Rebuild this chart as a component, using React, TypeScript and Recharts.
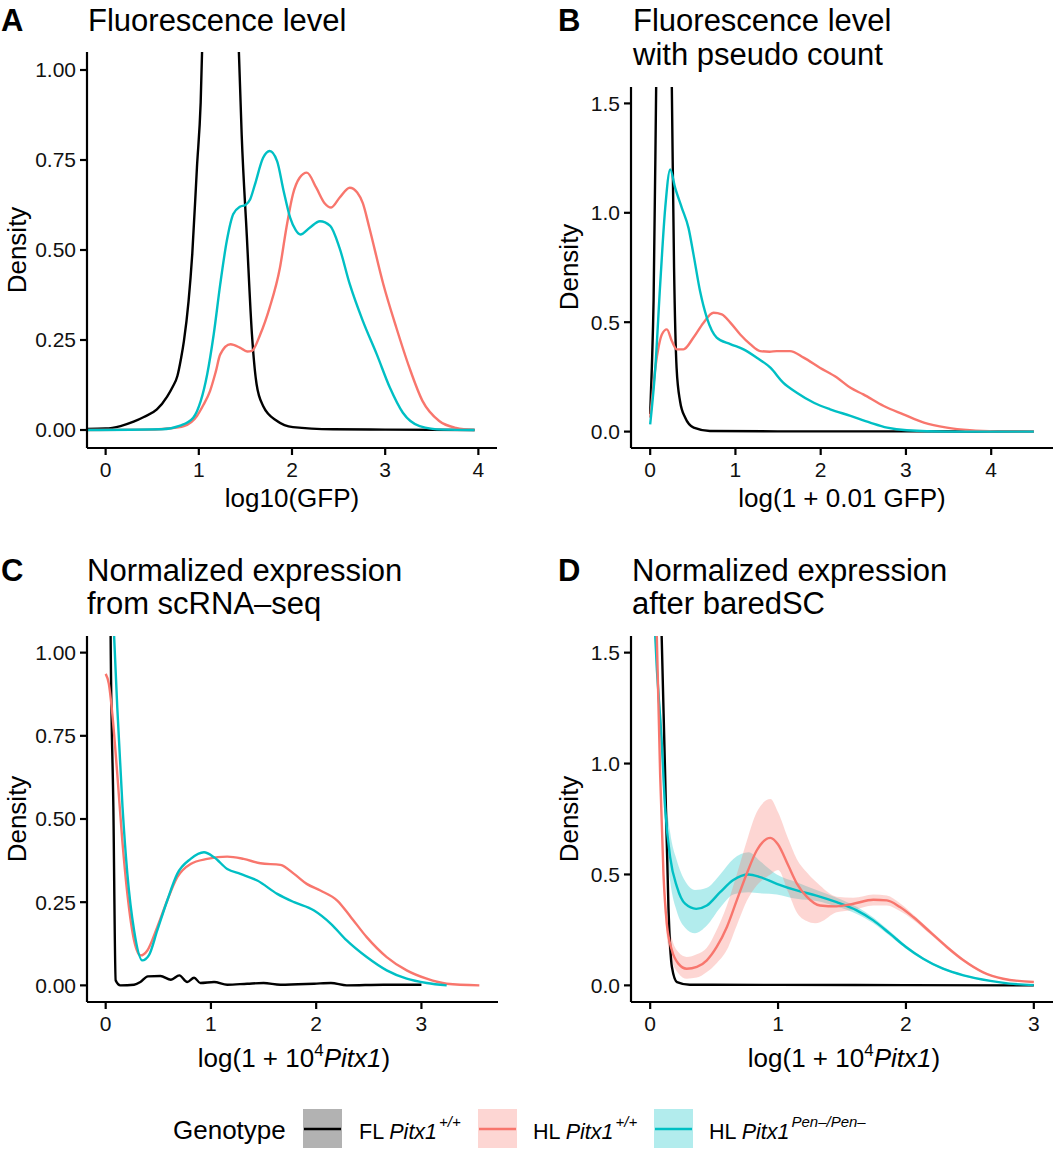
import React from "react";
import { Area, ComposedChart, Line, XAxis, YAxis } from "recharts";

const FONT = '"Liberation Sans", Arial, Helvetica, sans-serif';
const FL_COLOR = "#000000";
const HL_COLOR = "#F8766D";
const PEN_COLOR = "#00BFC4";

type Pt = [number, number];
type BandPt = [number, number, number];

// A: log10(GFP)
const A_FL: Pt[] = [
  [-0.2, 0.003], [0, 0.004], [0.16, 0.011], [0.3, 0.023], [0.41, 0.036], [0.55, 0.057],
  [0.66, 0.093], [0.72, 0.12], [0.77, 0.15], [0.81, 0.2], [0.84, 0.247], [0.89, 0.358],
  [0.93, 0.49], [0.98, 0.73], [1.02, 0.91], [1.06, 1.3], [1.12, 1.9], [1.2, 2.35],
  [1.25, 2.4], [1.31, 2.2], [1.37, 1.7], [1.43, 1.05], [1.46, 0.82], [1.515, 0.54],
  [1.57, 0.266], [1.62, 0.127], [1.69, 0.067], [1.84, 0.025], [2.01, 0.008], [2.44, 0.002],
  [3.0, 0.001], [3.96, 0],
];
const A_HL: Pt[] = [
  [-0.2, 0], [0.5, 0.001], [0.66, 0.004], [0.84, 0.011], [0.98, 0.039], [1.05, 0.07],
  [1.12, 0.108], [1.18, 0.16], [1.23, 0.21], [1.34, 0.238], [1.44, 0.229], [1.52, 0.218],
  [1.57, 0.22], [1.66, 0.266], [1.76, 0.34], [1.87, 0.45], [1.94, 0.562], [2.01, 0.655],
  [2.08, 0.7], [2.16, 0.715], [2.26, 0.673], [2.35, 0.63], [2.42, 0.618], [2.51, 0.645],
  [2.62, 0.673], [2.7, 0.66], [2.76, 0.63], [2.83, 0.562], [2.98, 0.405], [3.12, 0.284],
  [3.26, 0.173], [3.4, 0.081], [3.58, 0.025], [3.76, 0.006], [3.96, 0],
];
const A_PEN: Pt[] = [
  [-0.2, 0], [0.6, 0.002], [0.8, 0.012], [0.94, 0.034], [1.02, 0.08], [1.09, 0.155],
  [1.16, 0.266], [1.23, 0.405], [1.3, 0.525], [1.37, 0.6], [1.44, 0.62], [1.5, 0.625],
  [1.55, 0.64], [1.6, 0.68], [1.69, 0.756], [1.76, 0.775], [1.84, 0.747], [1.91, 0.664],
  [1.98, 0.59], [2.04, 0.555], [2.09, 0.543], [2.19, 0.562], [2.3, 0.58], [2.41, 0.567],
  [2.51, 0.506], [2.62, 0.405], [2.76, 0.303], [2.91, 0.21], [3.05, 0.118], [3.19, 0.048],
  [3.37, 0.011], [3.62, 0.001], [3.96, 0],
];

// B: log(1 + 0.01 GFP)
const B_FL: Pt[] = [
  [0, 0.08], [0.02, 0.3], [0.04, 0.6], [0.07, 1.57], [0.1, 2.6], [0.16, 4.0], [0.21, 2.8],
  [0.254, 1.57], [0.28, 0.75], [0.31, 0.29], [0.35, 0.14], [0.41, 0.064], [0.51, 0.018],
  [0.7, 0.003], [1.5, 0.001], [3.0, 0.001], [4.5, 0],
];
const B_HL: Pt[] = [
  [0, 0.064], [0.03, 0.18], [0.06, 0.29], [0.1, 0.39], [0.137, 0.444], [0.196, 0.467],
  [0.254, 0.414], [0.313, 0.376], [0.39, 0.376], [0.508, 0.43], [0.626, 0.498], [0.743, 0.543],
  [0.84, 0.536], [0.94, 0.498], [1.056, 0.444], [1.173, 0.4], [1.29, 0.368], [1.4, 0.365],
  [1.486, 0.368], [1.64, 0.368], [1.8, 0.338], [1.99, 0.292], [2.19, 0.247], [2.35, 0.2],
  [2.5, 0.17], [2.74, 0.117], [2.97, 0.079], [3.21, 0.041], [3.48, 0.018], [3.75, 0.006],
  [4.07, 0.001], [4.5, 0],
];
const B_PEN: Pt[] = [
  [0, 0.033], [0.06, 0.29], [0.117, 0.67], [0.176, 1.02], [0.235, 1.198], [0.293, 1.114],
  [0.371, 1.023], [0.45, 0.93], [0.508, 0.81], [0.586, 0.64], [0.665, 0.52], [0.78, 0.43],
  [0.94, 0.4], [1.095, 0.376], [1.25, 0.338], [1.41, 0.292], [1.56, 0.224], [1.72, 0.178],
  [1.92, 0.132], [2.11, 0.102], [2.35, 0.072], [2.58, 0.041], [2.78, 0.018], [3.01, 0.006],
  [3.48, 0], [4.5, 0],
];

// C: scRNA-seq
const C_FL: Pt[] = [
  [0, 3.0], [0.03, 2.0], [0.047, 1.05], [0.073, 0.535], [0.095, 0.015], [0.14, 0],
  [0.27, 0.002], [0.33, 0.01], [0.4, 0.027], [0.52, 0.028], [0.62, 0.017], [0.7, 0.03],
  [0.775, 0.01], [0.84, 0.023], [0.9, 0.007], [1.03, 0.01], [1.155, 0.002], [1.345, 0.005],
  [1.5, 0.007], [1.66, 0.002], [1.98, 0.005], [2.14, 0.007], [2.29, 0], [2.64, 0.002], [3.0, 0.002],
];
const C_HL: Pt[] = [
  [0, 0.936], [0.03, 0.906], [0.063, 0.816], [0.11, 0.636], [0.158, 0.435], [0.206, 0.275],
  [0.27, 0.135], [0.332, 0.09], [0.396, 0.105], [0.49, 0.175], [0.585, 0.255], [0.68, 0.325],
  [0.807, 0.365], [0.965, 0.38], [1.155, 0.387], [1.31, 0.38], [1.47, 0.367], [1.66, 0.362],
  [1.79, 0.335], [1.91, 0.305], [2.04, 0.285], [2.2, 0.255], [2.33, 0.205], [2.48, 0.145],
  [2.67, 0.085], [2.86, 0.045], [3.05, 0.02], [3.24, 0.005], [3.55, 0],
];
const C_PEN: Pt[] = [
  [0, 1.6], [0.05, 1.3], [0.08, 1.05], [0.11, 0.836], [0.16, 0.536], [0.206, 0.335],
  [0.27, 0.165], [0.348, 0.075], [0.41, 0.09], [0.49, 0.165], [0.585, 0.255], [0.68, 0.335],
  [0.807, 0.38], [0.934, 0.4], [1.03, 0.385], [1.155, 0.35], [1.28, 0.335], [1.44, 0.315],
  [1.63, 0.275], [1.79, 0.25], [1.98, 0.225], [2.14, 0.185], [2.29, 0.135], [2.48, 0.085],
  [2.67, 0.045], [2.86, 0.02], [3.05, 0.007], [3.24, 0],
];

// D: after baredSC (line + [x, low, high] band)
const D_FL: Pt[] = [
  [0, 4.0], [0.05, 2.5], [0.09, 1.57], [0.117, 0.95], [0.143, 0.35], [0.17, 0.083],
  [0.21, 0.015], [0.31, 0.003], [1.0, 0.002], [2.0, 0.001], [3.0, 0],
];
const D_HL: Pt[] = [
  [0, 2.8], [0.03, 2.0], [0.052, 1.57], [0.078, 0.95], [0.104, 0.5], [0.13, 0.278],
  [0.17, 0.158], [0.22, 0.098], [0.286, 0.075], [0.365, 0.083], [0.443, 0.113], [0.52, 0.173],
  [0.6, 0.263], [0.677, 0.383], [0.755, 0.503], [0.833, 0.608], [0.94, 0.665], [1.0, 0.635],
  [1.08, 0.54], [1.146, 0.46], [1.224, 0.4], [1.328, 0.36], [1.458, 0.356], [1.59, 0.368],
  [1.745, 0.386], [1.85, 0.383], [1.953, 0.353], [2.057, 0.308], [2.19, 0.24], [2.32, 0.173],
  [2.45, 0.113], [2.6, 0.06], [2.76, 0.03], [3.0, 0.015],
];
const D_HL_BAND: BandPt[] = [
  [0, 2.7, 2.9], [0.03, 1.9, 2.1], [0.052, 1.5, 1.64], [0.078, 0.9, 1.0], [0.104, 0.45, 0.55],
  [0.13, 0.22, 0.33], [0.17, 0.11, 0.21], [0.22, 0.055, 0.15], [0.286, 0.03, 0.128],
  [0.365, 0.035, 0.14], [0.443, 0.06, 0.17], [0.52, 0.1, 0.25], [0.6, 0.16, 0.36],
  [0.677, 0.27, 0.5], [0.755, 0.38, 0.65], [0.833, 0.45, 0.78], [0.94, 0.5, 0.84],
  [1.0, 0.52, 0.78], [1.08, 0.42, 0.66], [1.146, 0.33, 0.57], [1.224, 0.29, 0.51],
  [1.29, 0.28, 0.47], [1.328, 0.285, 0.45], [1.458, 0.33, 0.4], [1.59, 0.34, 0.395],
  [1.745, 0.36, 0.41], [1.85, 0.36, 0.405], [1.953, 0.335, 0.37], [2.057, 0.295, 0.32],
  [2.19, 0.23, 0.25], [2.32, 0.165, 0.181], [2.45, 0.107, 0.119], [2.6, 0.056, 0.064],
  [2.76, 0.027, 0.033], [3.0, 0.012, 0.018],
];
const D_PEN: Pt[] = [
  [0, 2.5], [0.02, 1.9], [0.04, 1.57], [0.09, 1.1], [0.117, 0.8], [0.156, 0.578],
  [0.21, 0.443], [0.273, 0.368], [0.36, 0.345], [0.443, 0.36], [0.547, 0.42], [0.65, 0.475],
  [0.77, 0.5], [0.86, 0.488], [0.99, 0.458], [1.146, 0.428], [1.3, 0.405], [1.458, 0.375],
  [1.615, 0.338], [1.745, 0.293], [1.875, 0.233], [2.0, 0.173], [2.135, 0.12], [2.29, 0.075],
  [2.45, 0.045], [2.66, 0.02], [2.81, 0.008], [3.0, 0.001],
];
const D_PEN_BAND: BandPt[] = [
  [0, 2.4, 2.6], [0.02, 1.8, 2.0], [0.04, 1.5, 1.64], [0.09, 1.02, 1.18], [0.117, 0.7, 0.9],
  [0.156, 0.47, 0.69], [0.21, 0.33, 0.56], [0.273, 0.26, 0.47], [0.35, 0.235, 0.43],
  [0.443, 0.27, 0.44], [0.547, 0.35, 0.5], [0.65, 0.41, 0.57], [0.77, 0.42, 0.6],
  [0.86, 0.415, 0.56], [0.99, 0.41, 0.5], [1.146, 0.39, 0.465], [1.3, 0.38, 0.43],
  [1.458, 0.355, 0.395], [1.615, 0.322, 0.354], [1.745, 0.28, 0.306], [1.875, 0.222, 0.244],
  [2.0, 0.165, 0.181], [2.135, 0.114, 0.126], [2.29, 0.07, 0.08], [2.45, 0.041, 0.049],
  [2.66, 0.017, 0.023], [2.81, 0.006, 0.01], [3.0, 0, 0.002],
];

const X_TICKS_4 = [0, 1, 2, 3, 4];
const X_TICKS_3 = [0, 1, 2, 3];
const Y_TICKS_1 = [0, 0.25, 0.5, 0.75, 1];
const Y_TICKS_15 = [0, 0.5, 1, 1.5];

const toPts = (arr: Pt[]) => arr.map(([x, y]) => ({ x, y }));
const toBand = (arr: BandPt[]) => arr.map(([x, lo, hi]) => ({ x, band: [lo, hi] }));

type Series = { data: Pt[]; color: string };
type Band = { data: BandPt[]; color: string };
type PanelCfg = {
  left: number; top: number; width: number; height: number;
  plotTop: number; right: number; yAxisWidth: number; xAxisHeight: number;
  xDomain: [number, number]; xTicks: number[];
  yDomain: [number, number]; yTicks: number[]; yDigits: number;
  lines: Series[]; bands?: Band[];
};

const panels: PanelCfg[] = [
  {
    left: 0, top: 0, width: 530, height: 540, plotTop: 52, right: 33, yAxisWidth: 87, xAxisHeight: 92,
    xDomain: [-0.2, 4.2], xTicks: X_TICKS_4, yDomain: [-0.05, 1.05], yTicks: Y_TICKS_1, yDigits: 2,
    lines: [{ data: A_FL, color: FL_COLOR }, { data: A_HL, color: HL_COLOR }, { data: A_PEN, color: PEN_COLOR }],
  },
  {
    left: 530, top: 0, width: 533, height: 540, plotTop: 87, right: 10, yAxisWidth: 101, xAxisHeight: 92,
    xDomain: [-0.225, 4.725], xTicks: X_TICKS_4, yDomain: [-0.075, 1.575], yTicks: Y_TICKS_15, yDigits: 1,
    lines: [{ data: B_FL, color: FL_COLOR }, { data: B_HL, color: HL_COLOR }, { data: B_PEN, color: PEN_COLOR }],
  },
  {
    left: 0, top: 540, width: 530, height: 520, plotTop: 96, right: 32, yAxisWidth: 87, xAxisHeight: 58,
    xDomain: [-0.1775, 3.7275], xTicks: X_TICKS_3, yDomain: [-0.05, 1.05], yTicks: Y_TICKS_1, yDigits: 2,
    lines: [{ data: C_FL, color: FL_COLOR }, { data: C_HL, color: HL_COLOR }, { data: C_PEN, color: PEN_COLOR }],
  },
  {
    left: 530, top: 540, width: 533, height: 520, plotTop: 96, right: 10, yAxisWidth: 101, xAxisHeight: 58,
    xDomain: [-0.15, 3.15], xTicks: X_TICKS_3, yDomain: [-0.075, 1.575], yTicks: Y_TICKS_15, yDigits: 1,
    bands: [{ data: D_PEN_BAND, color: PEN_COLOR }, { data: D_HL_BAND, color: HL_COLOR }],
    lines: [{ data: D_FL, color: FL_COLOR }, { data: D_PEN, color: PEN_COLOR }, { data: D_HL, color: HL_COLOR }],
  },
];

const axisStroke = { stroke: "#000", strokeWidth: 2.2 };
const tickStyle = { fontSize: 21, fill: "#111", fontFamily: FONT };

function Panel({ cfg }: { cfg: PanelCfg }) {
  return (
    <div style={{ position: "absolute", left: cfg.left, top: cfg.top }}>
      <ComposedChart
        width={cfg.width}
        height={cfg.height}
        margin={{ top: cfg.plotTop, right: cfg.right, bottom: 0, left: 0 }}
        style={{ fontFamily: FONT }}
      >
        <XAxis
          type="number" dataKey="x" domain={cfg.xDomain} ticks={cfg.xTicks} allowDataOverflow
          interval={0} height={cfg.xAxisHeight} tickSize={7} tickMargin={7}
          stroke="#000" strokeWidth={2.2}
          axisLine={axisStroke} tickLine={axisStroke} tick={tickStyle}
        />
        <YAxis
          type="number" domain={cfg.yDomain} ticks={cfg.yTicks} allowDataOverflow
          interval={0} width={cfg.yAxisWidth} tickSize={7} tickMargin={4}
          stroke="#000" strokeWidth={2.2}
          tickFormatter={(v: number) => v.toFixed(cfg.yDigits)}
          axisLine={axisStroke} tickLine={axisStroke} tick={tickStyle}
        />
        {(cfg.bands || []).map((b, i) => (
          <Area
            key={"band" + i} data={toBand(b.data)} dataKey="band" type="monotone"
            stroke="none" fill={b.color} fillOpacity={0.3}
            dot={false} activeDot={false} isAnimationActive={false}
          />
        ))}
        {cfg.lines.map((s, i) => (
          <Line
            key={"line" + i} data={toPts(s.data)} dataKey="y" type="monotone"
            stroke={s.color} strokeWidth={2.4} dot={false} activeDot={false} isAnimationActive={false}
          />
        ))}
      </ComposedChart>
    </div>
  );
}

function PitxLabel({ x, y, prefix, sup }: { x: number; y: number; prefix: string; sup: string }) {
  return (
    <text x={x} y={y} fontSize={21.5}>
      {prefix}
      <tspan fontStyle="italic">Pitx1</tspan>
      <tspan fontStyle="italic" fontSize={15} dx={2} dy={-12}>{sup}</tspan>
    </text>
  );
}

function PitxAxisTitle({ cx, y }: { cx: number; y: number }) {
  return (
    <text x={cx} y={y} fontSize={26} textAnchor="middle">
      log(1 + 10
      <tspan fontSize={17} dy={-11}>4</tspan>
      <tspan fontStyle="italic" dy={11}>Pitx1</tspan>
      <tspan>)</tspan>
    </text>
  );
}

const LEGEND = [
  { box: 303, text: 359, color: FL_COLOR, prefix: "FL ", sup: "+/+" },
  { box: 478, text: 533, color: HL_COLOR, prefix: "HL ", sup: "+/+" },
  { box: 654, text: 709, color: PEN_COLOR, prefix: "HL ", sup: "Pen–/Pen–" },
];

function Overlay() {
  return (
    <svg
      width={1063} height={1160}
      style={{ position: "absolute", left: 0, top: 0, pointerEvents: "none", fontFamily: FONT }}
    >
      <g fill="#000">
        <text x={1} y={31} fontSize={31} fontWeight="bold">A</text>
        <text x={88} y={31} fontSize={31}>Fluorescence level</text>
        <text x={558} y={31} fontSize={31} fontWeight="bold">B</text>
        <text x={633} y={31} fontSize={31}>Fluorescence level</text>
        <text x={633} y={65} fontSize={31}>with pseudo count</text>
        <text x={1} y={581} fontSize={31} fontWeight="bold">C</text>
        <text x={87} y={581} fontSize={31}>Normalized expression</text>
        <text x={87} y={614} fontSize={31}>from scRNA–seq</text>
        <text x={558} y={581} fontSize={31} fontWeight="bold">D</text>
        <text x={632} y={581} fontSize={31}>Normalized expression</text>
        <text x={632} y={614} fontSize={31}>after baredSC</text>

        <text transform="translate(26,250) rotate(-90)" fontSize={26} textAnchor="middle">Density</text>
        <text transform="translate(578,267) rotate(-90)" fontSize={26} textAnchor="middle">Density</text>
        <text transform="translate(26,819) rotate(-90)" fontSize={26} textAnchor="middle">Density</text>
        <text transform="translate(578,819) rotate(-90)" fontSize={26} textAnchor="middle">Density</text>

        <text x={292} y={507} fontSize={26} textAnchor="middle">log10(GFP)</text>
        <text x={842} y={507} fontSize={26} textAnchor="middle">log(1 + 0.01 GFP)</text>
        <PitxAxisTitle cx={294} y={1067} />
        <PitxAxisTitle cx={844} y={1067} />

        <text x={173} y={1139} fontSize={26}>Genotype</text>
        {LEGEND.map((l, i) => (
          <g key={i}>
            <rect x={l.box} y={1109} width={39} height={39} fill={l.color} fillOpacity={0.3} />
            <line x1={l.box + 1} x2={l.box + 38} y1={1129} y2={1129} stroke={l.color} strokeWidth={2.4} />
            <PitxLabel x={l.text} y={1139} prefix={l.prefix} sup={l.sup} />
          </g>
        ))}
      </g>
    </svg>
  );
}

export default function App() {
  return (
    <div
      style={{
        position: "absolute", left: 0, top: 0, width: 1063, height: 1160,
        background: "#fff", overflow: "hidden", fontFamily: FONT,
      }}
    >
      {panels.map((p, i) => (
        <Panel key={i} cfg={p} />
      ))}
      <Overlay />
    </div>
  );
}
